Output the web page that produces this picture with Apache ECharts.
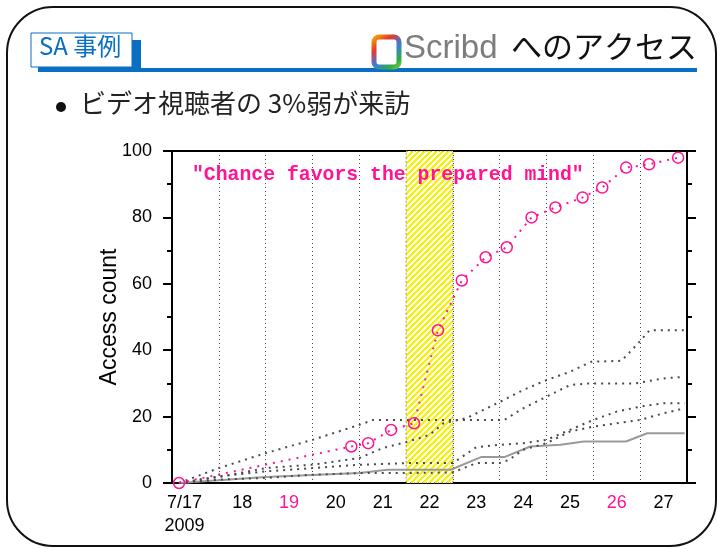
<!DOCTYPE html>
<html>
<head>
<meta charset="utf-8">
<script src="https://cdn.jsdelivr.net/npm/echarts@6/dist/echarts.min.js"></script>
<style>
  html, body { margin: 0; padding: 0; background: #fff; }
  #chart { width: 717px; height: 549px; }
</style>
</head>
<body>
<div id="chart"></div>
<script>
// x = days since 7/17 00:00, y = cumulative access count
const dayLabels = ['7/17\n2009', '18', '19', '20', '21', '22', '23', '24', '25', '26', '27']
const sundayLabels = ['19', '26']
const highlightDay = [5, 6] // 7/22 (video day)

const pinkDays = [0.15, 3.83, 4.19, 4.68, 5.17, 5.68, 6.19, 6.70, 7.15, 7.68, 8.19, 8.77, 9.19, 9.70, 10.19, 10.81]
const pinkCounts = [0, 11, 12, 16, 18, 46, 61, 68, 71, 80, 83, 86, 89, 95, 96, 98]

const grayADays = [0.15, 1, 2, 3, 4, 4.5, 5, 5.5, 5.8, 6.3, 7, 7.5, 8, 8.5, 8.95, 9.6, 9.95, 10.2, 10.95]
const grayACounts = [0, 1.8, 4.5, 5.5, 7.5, 10.5, 12.3, 14.5, 18, 19.6, 24.4, 28, 31, 33.5, 36.5, 36.8, 42, 46, 46]

const grayBDays = [0.15, 1, 2, 3, 4, 4.3, 7.1, 7.5, 8, 8.5, 8.9, 9.9, 10.5, 10.95]
const grayBCounts = [0, 4.5, 9, 13, 17.5, 19, 19, 22.5, 26, 29.5, 30, 30, 31.5, 32]

const grayCDays = [0.15, 1, 2, 3, 4, 5, 6, 6.5, 7, 7.5, 8, 8.5, 9, 9.5, 10, 10.5, 10.95]
const grayCCounts = [0, 2, 3.5, 4.5, 5.5, 6, 6, 10.8, 11.5, 12, 13, 16, 19, 21.5, 23, 24, 24]

const grayDDays = [0.15, 1, 2, 3, 4, 5, 6, 6.5, 7, 7.2, 7.5, 8, 8.5, 9, 9.5, 10, 10.5, 10.95]
const grayDCounts = [0, 1, 1.5, 2.5, 3, 3, 3.2, 6, 6, 7, 10, 12, 15.5, 17, 18, 19, 21, 22.5]

const solidDays = [0.15, 2, 3, 4, 4.6, 5.95, 6.6, 7.1, 7.65, 8.3, 8.8, 9.7, 10.15, 10.95]
const solidCounts = [0, 1.8, 2.4, 3, 4, 4, 7.8, 7.8, 11, 11.5, 12.5, 12.5, 15, 15]

const PINK = '#ff1493'
const BLUE = '#0a6fc2'
const FONT = '"Liberation Sans", "Noto Sans CJK JP", sans-serif'

function zip(xs, ys) {
  return xs.map((x, i) => [x, ys[i]])
}

// yellow "/" hatching for the highlighted day
function stripePattern() {
  const s = 6
  const c = document.createElement('canvas')
  c.width = s
  c.height = s
  const g = c.getContext('2d')
  g.fillStyle = '#fff'
  g.fillRect(0, 0, s, s)
  g.strokeStyle = '#f5f000'
  g.lineWidth = 2.2
  g.beginPath()
  g.moveTo(-1, s + 1); g.lineTo(s + 1, -1)
  g.moveTo(-1, 1); g.lineTo(1, -1)
  g.moveTo(s - 1, s + 1); g.lineTo(s + 1, s - 1)
  g.stroke()
  return c
}

function grayDotted(days, counts) {
  return {
    type: 'line',
    data: zip(days, counts),
    symbol: 'none',
    lineStyle: { color: '#4a4a4a', width: 2, type: [2, 5] },
    z: 3
  }
}

const yAxisBase = {
  type: 'value',
  min: 0,
  max: 100,
  interval: 20,
  axisLine: { show: true, onZero: false, lineStyle: { color: '#000', width: 2 } },
  axisTick: { show: true, inside: false, length: 9, lineStyle: { color: '#000', width: 2 } },
  minorTick: { show: true, splitNumber: 2, length: 5, lineStyle: { color: '#000', width: 2 } },
  splitLine: { show: false }
}

const chart = echarts.init(document.getElementById('chart'))

chart.setOption({
  animation: false,
  grid: { left: 172, right: 30, top: 151, bottom: 66 },
  xAxis: [
    {
      type: 'value',
      min: 0,
      max: 11,
      interval: 1,
      position: 'bottom',
      axisLine: { onZero: false, lineStyle: { color: '#000', width: 2 } },
      axisTick: { show: false },
      axisLabel: { show: false },
      splitLine: {
        show: true,
        showMinLine: false,
        showMaxLine: false,
        lineStyle: { color: '#444', width: 1, type: [1, 3] }
      }
    },
    {
      type: 'category',
      data: dayLabels,
      position: 'bottom',
      boundaryGap: true,
      axisLine: { show: false },
      axisTick: { show: false },
      axisLabel: {
        interval: 0,
        margin: 9,
        fontSize: 18,
        fontFamily: FONT,
        lineHeight: 23,
        color: (v) => sundayLabels.includes(v) ? PINK : '#000',
        formatter: (v, i) => i === 0 ? '{first|' + v.split('\n').join('}\n{first|') + '}' : v,
        rich: {
          first: { fontSize: 18, fontFamily: FONT, color: '#000', lineHeight: 23, padding: [0, 22, 0, 0] }
        }
      }
    },
    {
      type: 'value',
      min: 0,
      max: 11,
      position: 'top',
      axisLine: { onZero: false, lineStyle: { color: '#000', width: 2 } },
      axisTick: { show: false },
      axisLabel: { show: false },
      splitLine: { show: false }
    }
  ],
  yAxis: [
    Object.assign({}, yAxisBase, {
      position: 'left',
      axisLabel: { margin: 20, fontSize: 18, fontFamily: FONT, color: '#000' },
      name: 'Access count',
      nameLocation: 'middle',
      nameGap: 51,
      nameMoveOverlap: false,
      nameTextStyle: { fontSize: 23, fontFamily: FONT, color: '#000' }
    }),
    Object.assign({}, yAxisBase, {
      position: 'right',
      axisLabel: { show: false }
    })
  ],
  series: [
    {
      type: 'line',
      data: zip(solidDays, solidCounts),
      symbol: 'none',
      lineStyle: { color: '#9a9a9a', width: 2 },
      z: 3,
      markArea: {
        silent: true,
        itemStyle: {
          color: { image: stripePattern(), repeat: 'repeat' },
          borderColor: '#444',
          borderWidth: 1,
          borderType: [1, 3]
        },
        data: [[{ xAxis: highlightDay[0] }, { xAxis: highlightDay[1] }]]
      }
    },
    grayDotted(grayADays, grayACounts),
    grayDotted(grayBDays, grayBCounts),
    grayDotted(grayCDays, grayCCounts),
    grayDotted(grayDDays, grayDCounts),
    {
      type: 'line',
      data: zip(pinkDays, pinkCounts),
      symbol: 'circle',
      symbolSize: 11,
      itemStyle: { color: 'rgba(255,255,255,0)', borderColor: PINK, borderWidth: 1.5 },
      lineStyle: { color: PINK, width: 2, type: [2, 6] },
      z: 5
    }
  ],
  graphic: [
    // slide frame
    {
      type: 'rect', z: 0,
      shape: { x: 7, y: 7, width: 709, height: 539, r: 46 },
      style: { fill: 'none', stroke: '#111', lineWidth: 2 }
    },
    // header
    { type: 'rect', z: 1, shape: { x: 40, y: 68, width: 657, height: 4 }, style: { fill: BLUE } },
    { type: 'rect', z: 1, shape: { x: 38, y: 40, width: 103, height: 32 }, style: { fill: BLUE } },
    {
      type: 'rect', z: 2,
      shape: { x: 31, y: 33, width: 101, height: 34 },
      style: { fill: '#fff', stroke: BLUE, lineWidth: 1 }
    },
    {
      type: 'text', z: 3, left: 39, top: 34,
      style: { text: 'SA 事例', fill: BLUE, font: '24px "Noto Sans CJK JP", sans-serif' }
    },
    {
      type: 'rect', z: 2,
      shape: { x: 374, y: 37, width: 25, height: 30, r: 5 },
      style: {
        fill: '#fff',
        lineWidth: 5,
        stroke: new echarts.graphic.LinearGradient(0, 0, 1, 1, [
          { offset: 0, color: '#f5c400' },
          { offset: 0.3, color: '#e83a2a' },
          { offset: 0.55, color: '#3a7be0' },
          { offset: 0.8, color: '#2fae45' },
          { offset: 1, color: '#8bd13c' }
        ])
      }
    },
    {
      type: 'text', z: 3, left: 404, top: 32,
      style: { text: 'Scribd', fill: '#7d7d7d', font: '33px "Liberation Sans Narrow", "Liberation Sans", sans-serif' }
    },
    {
      type: 'text', z: 3, right: 20, top: 31,
      style: { text: 'へのアクセス', fill: '#111', font: '31px "Noto Sans CJK JP", sans-serif' }
    },
    // bullet line
    { type: 'circle', z: 3, shape: { cx: 61, cy: 107, r: 5 }, style: { fill: '#111' } },
    {
      type: 'text', z: 3, left: 80, top: 90,
      style: { text: 'ビデオ視聴者の 3%弱が来訪', fill: '#222', font: '26px "Noto Sans CJK JP", sans-serif' }
    },
    // quote inside the plot
    {
      type: 'text', z: 10, left: 192, top: 165,
      style: {
        text: '"Chance favors the prepared mind"',
        fill: PINK,
        font: 'bold 19.8px "Liberation Mono", monospace'
      }
    }
  ]
})
</script>
</body>
</html>
